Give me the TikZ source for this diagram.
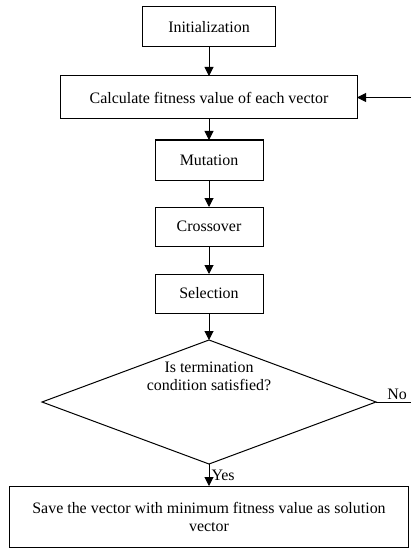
\documentclass[tikz,border=0pt]{standalone}
\usepackage{fontspec}
\setmainfont{Liberation Serif}
\usetikzlibrary{positioning,shapes.geometric,arrows.meta}
\begin{document}
\begin{tikzpicture}[x=1bp, y=1bp, line width=1bp, >={Triangle[length=9bp,width=9bp]},
    txt/.style={font=\fontsize{16}{18}\selectfont, align=center},
    stepbox/.style={txt, draw, rectangle, minimum height=40bp, inner sep=2bp, outer sep=0pt},
    decision/.style={draw, diamond, minimum width=334bp, minimum height=124bp, inner sep=0pt, outer sep=0pt}]
      \useasboundingbox (0,0) rectangle (411,-550);
      \coordinate (rim) at (411,0);
      \node[stepbox, minimum width=133bp] (init) at (209,-27) {Initialization};
      \node[stepbox, below=29bp of init, minimum width=296bp, minimum height=43bp] (calc) {Calculate fitness value of each vector};
      \node[stepbox, below=21bp of calc, minimum width=108bp] (mut) {Mutation};
      \node[stepbox, below=27bp of mut, minimum width=108bp, minimum height=39bp] (cross) {Crossover};
      \node[stepbox, below=28bp of cross, minimum width=108bp, minimum height=39bp] (sel) {Selection};
      \node[decision, below=27bp of sel] (dec) {};
      \node[txt] (ask) at ([yshift=26bp]dec.center) {Is termination\\condition satisfied?};
      \node[stepbox, below=22bp of dec, minimum width=399bp, minimum height=61bp] (save) {Save the vector with minimum fitness value as solution\\vector};
      \draw[->] (init) -- (calc);
      \draw[->] (calc) -- (mut);
      \draw[->] (mut) -- (cross);
      \draw[->] (cross) -- (sel);
      \draw[->] (sel) -- (dec);
      \draw[->] (dec) -- node[txt, right, inner sep=2bp] (yes) {Yes} (save);
      \draw (dec.east) -- node[txt, above, pos=0.6, inner sep=2bp] (no) {No} (dec.east -| rim);
      \draw[->] (calc.east -| rim) -- (calc);
    \end{tikzpicture}
\end{document}
